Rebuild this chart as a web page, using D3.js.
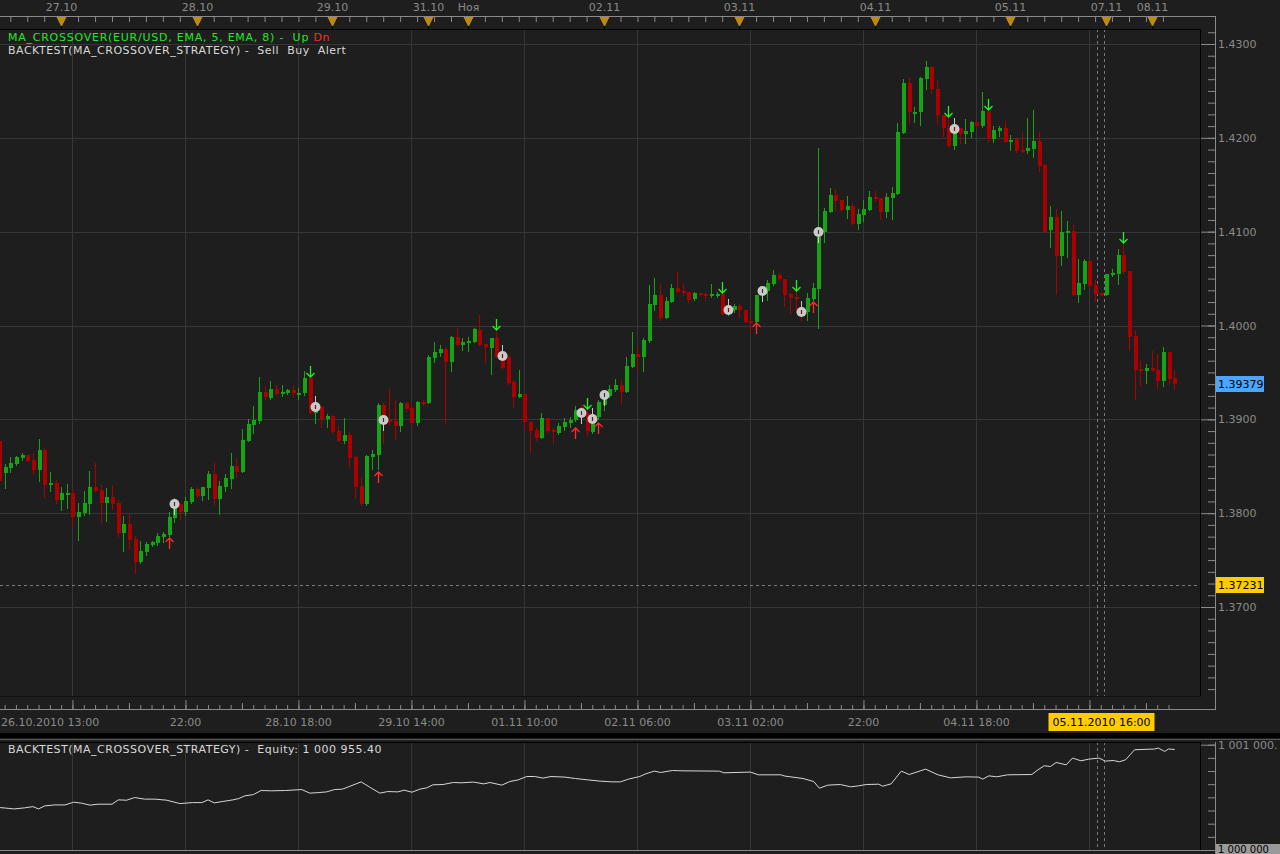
<!DOCTYPE html>
<html>
<head>
<meta charset="utf-8">
<script src="https://cdn.jsdelivr.net/npm/d3@7"></script>
<style>
  body { margin: 0; background: #1e1e1e; }
  svg { display: block; font-family: "DejaVu Sans", sans-serif; font-size: 11px; }
  .legend { letter-spacing: 0.5px; }
  .legend .wide { letter-spacing: 0.75px; }
</style>
</head>
<body>
<svg width="1280" height="854"></svg>
<script>
// EUR/USD hourly candles, 26.10.2010 13:00 -> 08.11.2010
const open = [
  1.3877,1.3843,1.3848,1.3852,1.3859,1.3862,1.3857,1.3846,1.3867,1.3830,1.3832,1.3814,1.3820,1.3822,1.3796,1.3800,1.3810,1.3828,1.3825,1.3811,
  1.3817,1.3811,1.3779,1.3788,1.3772,1.3748,1.3759,1.3766,1.3768,1.3775,1.3777,1.3795,1.3810,1.3801,1.3812,1.3826,1.3818,1.3827,1.3842,1.3815,
  1.3828,1.3836,1.3850,1.3844,1.3877,1.3894,1.3898,1.3929,1.3923,1.3932,1.3928,1.3928,1.3931,1.3927,1.3928,1.3944,1.3907,1.3913,1.3900,1.3904,
  1.3888,1.3877,1.3883,1.3860,1.3829,1.3810,1.3860,1.3862,1.3915,1.3899,1.3898,1.3893,1.3917,1.3912,1.3896,1.3919,1.3917,1.3965,1.3971,1.3975,
  1.3961,1.3988,1.3979,1.3981,1.3982,1.3995,1.3980,1.3976,1.3987,1.3969,1.3966,1.3940,1.3924,1.3927,1.3897,1.3889,1.3880,1.3901,1.3889,1.3885,
  1.3892,1.3896,1.3899,1.3913,1.3907,1.3887,1.3903,1.3915,1.3925,1.3931,1.3937,1.3929,1.3956,1.3970,1.3966,1.3984,1.4022,1.4032,1.4008,1.4025,
  1.4040,1.4037,1.4036,1.4028,1.4035,1.4034,1.4033,1.4033,1.4034,1.4013,1.4016,1.4021,1.4017,1.4005,1.4004,1.4033,1.4037,1.4044,1.4054,1.4050,
  1.4034,1.4030,1.4020,1.4014,1.4028,1.4039,1.4100,1.4121,1.4139,1.4134,1.4123,1.4127,1.4108,1.4118,1.4123,1.4137,1.4136,1.4121,1.4136,1.4140,
  1.4205,1.4258,1.4227,1.4227,1.4263,1.4276,1.4252,1.4224,1.4211,1.4191,1.4211,1.4204,1.4206,1.4217,1.4213,1.4229,1.4199,1.4207,1.4211,1.4196,
  1.4199,1.4187,1.4186,1.4188,1.4197,1.4171,1.4102,1.4116,1.4074,1.4099,1.4101,1.4032,1.4044,1.4069,1.4043,1.4035,1.4033,1.4054,1.4055,1.4075,
  1.4058,1.3989,1.3954,1.3952,1.3955,1.3953,1.3941,1.3972,1.3944
];
const high = [
  1.3878,1.3852,1.3860,1.3861,1.3864,1.3862,1.3864,1.3879,1.3869,1.3844,1.3835,1.3828,1.3831,1.3827,1.3811,1.3824,1.3845,1.3853,1.3830,1.3827,
  1.3830,1.3814,1.3797,1.3799,1.3776,1.3770,1.3769,1.3770,1.3779,1.3780,1.3801,1.3816,1.3811,1.3817,1.3828,1.3828,1.3828,1.3845,1.3853,1.3834,
  1.3842,1.3864,1.3859,1.3890,1.3900,1.3914,1.3945,1.3935,1.3941,1.3937,1.3937,1.3932,1.3935,1.3933,1.3951,1.3946,1.3913,1.3914,1.3906,1.3905,
  1.3893,1.3901,1.3887,1.3861,1.3839,1.3862,1.3867,1.3917,1.3917,1.3932,1.3921,1.3919,1.3919,1.3919,1.3920,1.3921,1.3969,1.3982,1.3979,1.3977,
  1.3989,1.3997,1.3987,1.3988,1.3997,1.4011,1.3980,1.3987,1.3993,1.3979,1.3969,1.3942,1.3953,1.3928,1.3898,1.3891,1.3907,1.3901,1.3892,1.3896,
  1.3901,1.3903,1.3914,1.3916,1.3922,1.3912,1.3921,1.3931,1.3937,1.3943,1.3942,1.3966,1.3993,1.3977,1.3987,1.4043,1.4051,1.4044,1.4030,1.4044,
  1.4057,1.4044,1.4036,1.4036,1.4035,1.4035,1.4044,1.4036,1.4036,1.4028,1.4023,1.4023,1.4017,1.4008,1.4033,1.4041,1.4049,1.4059,1.4056,1.4050,
  1.4035,1.4036,1.4025,1.4035,1.4045,1.4189,1.4125,1.4147,1.4146,1.4134,1.4138,1.4131,1.4124,1.4134,1.4143,1.4143,1.4136,1.4141,1.4148,1.4216,
  1.4263,1.4264,1.4233,1.4265,1.4282,1.4277,1.4262,1.4224,1.4224,1.4214,1.4211,1.4220,1.4218,1.4217,1.4249,1.4229,1.4213,1.4213,1.4218,1.4203,
  1.4201,1.4206,1.4221,1.4230,1.4206,1.4172,1.4127,1.4124,1.4122,1.4111,1.4107,1.4071,1.4071,1.4069,1.4049,1.4035,1.4055,1.4060,1.4082,1.4086,
  1.4058,1.3995,1.3962,1.3959,1.3973,1.3970,1.3977,1.3972,1.3953
];
const low = [
  1.3833,1.3827,1.3844,1.3851,1.3857,1.3856,1.3842,1.3834,1.3817,1.3824,1.3811,1.3803,1.3806,1.3786,1.3771,1.3798,1.3799,1.3824,1.3791,1.3792,
  1.3804,1.3776,1.3760,1.3762,1.3736,1.3747,1.3755,1.3765,1.3766,1.3769,1.3776,1.3791,1.3794,1.3798,1.3811,1.3817,1.3814,1.3815,1.3810,1.3799,
  1.3824,1.3827,1.3839,1.3844,1.3877,1.3885,1.3896,1.3922,1.3922,1.3927,1.3925,1.3927,1.3925,1.3922,1.3926,1.3907,1.3896,1.3892,1.3892,1.3885,
  1.3877,1.3875,1.3850,1.3816,1.3809,1.3809,1.3847,1.3847,1.3875,1.3894,1.3879,1.3888,1.3909,1.3895,1.3894,1.3915,1.3917,1.3961,1.3968,1.3896,
  1.3951,1.3979,1.3974,1.3973,1.3982,1.3979,1.3961,1.3948,1.3966,1.3955,1.3938,1.3913,1.3924,1.3889,1.3865,1.3878,1.3880,1.3887,1.3875,1.3884,
  1.3889,1.3892,1.3898,1.3896,1.3883,1.3885,1.3900,1.3910,1.3924,1.3930,1.3917,1.3929,1.3956,1.3953,1.3951,1.3982,1.4017,1.4006,1.4008,1.4025,
  1.4036,1.4032,1.4025,1.4027,1.4032,1.4027,1.4030,1.4030,1.4012,1.4011,1.4014,1.4009,1.4004,1.3992,1.4004,1.4027,1.4027,1.4043,1.4049,1.4021,
  1.4013,1.4014,1.4006,1.4006,1.4027,1.3997,1.4089,1.4121,1.4123,1.4123,1.4115,1.4108,1.4103,1.4111,1.4123,1.4133,1.4114,1.4116,1.4114,1.4140,
  1.4205,1.4216,1.4217,1.4214,1.4252,1.4248,1.4216,1.4202,1.4190,1.4188,1.4195,1.4195,1.4201,1.4213,1.4212,1.4196,1.4196,1.4202,1.4196,1.4187,
  1.4185,1.4185,1.4184,1.4180,1.4165,1.4100,1.4084,1.4034,1.4064,1.4073,1.4032,1.4025,1.4039,1.4042,1.4026,1.4033,1.4033,1.4053,1.4044,1.4056,
  1.3974,1.3922,1.3937,1.3939,1.3952,1.3933,1.3935,1.3939,1.3932
];
const close = [
  1.3834,1.3849,1.3853,1.3860,1.3862,1.3856,1.3846,1.3867,1.3830,1.3832,1.3814,1.3822,1.3822,1.3796,1.3801,1.3811,1.3828,1.3824,1.3811,1.3817,
  1.3810,1.3779,1.3788,1.3771,1.3748,1.3760,1.3767,1.3769,1.3776,1.3778,1.3796,1.3806,1.3801,1.3813,1.3826,1.3818,1.3828,1.3842,1.3815,1.3829,
  1.3838,1.3850,1.3844,1.3878,1.3895,1.3899,1.3929,1.3924,1.3932,1.3927,1.3929,1.3931,1.3928,1.3928,1.3944,1.3907,1.3909,1.3900,1.3904,1.3887,
  1.3877,1.3883,1.3859,1.3828,1.3810,1.3861,1.3863,1.3915,1.3894,1.3897,1.3893,1.3917,1.3911,1.3896,1.3919,1.3917,1.3966,1.3972,1.3975,1.3961,
  1.3988,1.3979,1.3982,1.3984,1.3996,1.3979,1.3977,1.3987,1.3966,1.3955,1.3939,1.3924,1.3927,1.3897,1.3888,1.3880,1.3901,1.3888,1.3887,1.3893,
  1.3897,1.3899,1.3910,1.3903,1.3888,1.3903,1.3919,1.3929,1.3932,1.3937,1.3929,1.3957,1.3970,1.3966,1.3985,1.4023,1.4032,1.4008,1.4026,1.4040,
  1.4036,1.4035,1.4027,1.4035,1.4033,1.4033,1.4034,1.4034,1.4012,1.4020,1.4021,1.4016,1.4004,1.4004,1.4032,1.4040,1.4045,1.4054,1.4050,1.4033,
  1.4029,1.4028,1.4011,1.4029,1.4040,1.4094,1.4122,1.4139,1.4133,1.4123,1.4127,1.4108,1.4119,1.4124,1.4137,1.4135,1.4121,1.4137,1.4141,1.4206,
  1.4258,1.4227,1.4228,1.4264,1.4276,1.4252,1.4224,1.4211,1.4191,1.4205,1.4204,1.4207,1.4217,1.4213,1.4229,1.4199,1.4208,1.4211,1.4196,1.4198,
  1.4186,1.4186,1.4189,1.4197,1.4170,1.4100,1.4116,1.4074,1.4100,1.4101,1.4032,1.4045,1.4069,1.4042,1.4034,1.4033,1.4055,1.4056,1.4075,1.4057,
  1.3988,1.3953,1.3952,1.3955,1.3952,1.3941,1.3972,1.3943,1.3938
];

// signals and trades
const sellSignalIdx = [55, 88, 104, 128, 141, 168, 175, 199];
const sellSignalPrice = [1.3945, 1.3995, 1.3911, 1.4035, 1.4037, 1.4222, 1.4230, 1.4088];
const buySignalIdx = [30, 67, 102, 106, 134, 144];
const buySignalPrice = [1.3774, 1.3844, 1.3891, 1.3896, 1.4003, 1.4025];
const tradeIdx = [31, 56, 68, 89, 103, 105, 107, 129, 135, 142, 145, 169];
const tradeSide = ['buy', 'sell', 'buy', 'sell', 'buy', 'sell', 'buy', 'sell', 'buy', 'sell', 'buy', 'sell'];
const tradePrice = [1.3798, 1.3925, 1.3888, 1.3979, 1.3895, 1.3912, 1.3914, 1.4028, 1.4025, 1.4026, 1.4088, 1.4221];

// equity curve (candle index, value)
const equityIdx = [
  0.2,2.7,4.5,6.0,7.0,8.1,9.9,11.7,13.2,14.6,16.1,17.5,20.0,21.1,22.6,24.0,25.8,27.6,29.7,32.0,
  34.2,35.9,37.0,38.1,39.5,41.4,42.4,43.5,45.0,46.4,48.2,50.7,53.6,55.0,56.5,58.0,59.4,60.8,62.3,64.1,
  65.6,67.4,68.8,70.6,71.7,73.1,74.5,75.7,76.8,78.6,80.4,81.8,84.0,85.8,86.9,89.0,90.4,91.9,93.4,94.8,
  96.3,97.7,100.2,102.0,104.2,106.4,108.5,110.0,111.4,113.4,114.5,116.0,117.1,119.2,120.7,127.5,128.3,133.0,134.4,138.4,
  139.1,142.3,144.2,145.2,146.7,148.9,150.7,152.1,153.5,155.7,156.4,157.9,159.7,161.1,164.0,166.2,168.4,171.2,173.4,174.1,
  175.2,176.6,178.5,182.8,183.9,185.0,186.1,187.1,188.9,190.0,191.5,192.9,194.7,195.8,197.2,198.3,199.4,201.0,204.5,205.2,
  206.3,207.0,208.1
];
const equityVal = [
  1000403,1000390,1000400,1000412,1000390,1000419,1000428,1000428,1000454,1000445,1000426,1000435,1000435,1000476,1000473,1000498,1000483,1000483,1000473,1000441,
  1000450,1000450,1000476,1000447,1000460,1000476,1000488,1000514,1000526,1000565,1000562,1000565,1000574,1000540,1000545,1000552,1000574,1000578,1000609,1000647,
  1000597,1000540,1000555,1000552,1000568,1000549,1000578,1000590,1000619,1000622,1000641,1000638,1000645,1000628,1000641,1000616,1000650,1000666,1000698,1000698,
  1000683,1000698,1000692,1000679,1000666,1000654,1000647,1000647,1000673,1000698,1000724,1000749,1000736,1000755,1000752,1000749,1000733,1000740,1000714,1000714,
  1000702,1000679,1000650,1000587,1000616,1000622,1000600,1000609,1000622,1000625,1000606,1000628,1000749,1000717,1000768,1000714,1000685,1000695,1000692,1000673,
  1000704,1000695,1000714,1000717,1000762,1000800,1000793,1000831,1000809,1000873,1000847,1000863,1000873,1000844,1000850,1000838,1000857,1000952,1000959,1000968,
  1000936,1000959,1000955
];
const equityLast = 1000955.40;

// axes
const priceTicks = [1.37, 1.38, 1.39, 1.40, 1.41, 1.42, 1.43];
const dayIdx = [11, 35, 59, 76, 83, 107, 131, 155, 179, 196, 204];
const dayLabels = ['27.10', '28.10', '29.10', '31.10', 'Ноя', '02.11', '03.11', '04.11', '05.11', '07.11', '08.11'];
const gridIdx = [13, 33, 53, 73, 93, 113, 133, 153, 173, 193];
const timeIdx = [33, 53, 73, 93, 113, 133, 153, 173];
const timeLabels = ['22:00', '28.10 18:00', '29.10 14:00', '01.11 10:00', '02.11 06:00', '03.11 02:00', '22:00', '04.11 18:00'];
const firstLabel = '26.10.2010 13:00';
const crossIdx = 195;
const crossLabel = '05.11.2010 16:00';
const crossPrice = 1.37231;
const lastPrice = 1.39379;
const equityTicks = [1000000, 1001000];
const equityTickLabels = ['1 000 000', '1 001 000.'];

const W = 1280, H = 854;
const plot = { right: 1200, top: 29, bottom: 696 };
const eqTop = 742, eqBottom = 850;
const axisX = 1215;

const upColor = '#14a414', downColor = '#aa0000';
const gridColor = '#363636', axisColor = '#8a8a8a';
const nb = s => s.replace(/ /g, '\u00a0');

const svg = d3.select('svg');
svg.append('rect').attr('width', W).attr('height', H).attr('fill', '#1e1e1e');

const defs = svg.append('defs');
defs.append('clipPath').attr('id', 'clipMain')
  .append('rect').attr('x', 0).attr('y', plot.top).attr('width', plot.right).attr('height', plot.bottom - plot.top);
defs.append('clipPath').attr('id', 'clipEq')
  .append('rect').attr('x', 0).attr('y', eqTop).attr('width', plot.right).attr('height', eqBottom - eqTop);

const xScale = d3.scaleLinear().domain([0, 208]).range([-1, 208 * 5.65 - 1]);
const yScale = d3.scaleLinear().domain([1.37, 1.43]).range([607, 44]);
const yEq = d3.scaleLinear().domain([1000000, 1001000]).range([850, 744.7]);
const px = i => Math.round(xScale(i));

// ---- grid ----
const gridG = svg.append('g').attr('stroke', gridColor).attr('shape-rendering', 'crispEdges');
gridG.selectAll('.hgrid').data(priceTicks).join('line')
  .attr('x1', 0).attr('x2', plot.right)
  .attr('y1', d => Math.round(yScale(d)) + 0.5).attr('y2', d => Math.round(yScale(d)) + 0.5);
gridG.selectAll('.vgrid').data(gridIdx).join('line')
  .attr('x1', d => px(d) + 0.5).attr('x2', d => px(d) + 0.5)
  .attr('y1', plot.top).attr('y2', plot.bottom);
gridG.selectAll('.vgrid2').data(gridIdx).join('line')
  .attr('x1', d => px(d) + 0.5).attr('x2', d => px(d) + 0.5)
  .attr('y1', eqTop).attr('y2', eqBottom);

// ---- crosshair ----
const crossG = svg.append('g').attr('stroke', '#7a7a7a').attr('stroke-dasharray', '3,3').attr('shape-rendering', 'crispEdges');
[-3.5, 3.5].forEach(off => {
  crossG.append('line')
    .attr('x1', px(crossIdx) + off).attr('x2', px(crossIdx) + off)
    .attr('y1', plot.top).attr('y2', plot.bottom);
  crossG.append('line')
    .attr('x1', px(crossIdx) + off).attr('x2', px(crossIdx) + off)
    .attr('y1', eqTop).attr('y2', eqBottom);
});
crossG.append('line')
  .attr('x1', 0).attr('x2', plot.right)
  .attr('y1', Math.round(yScale(crossPrice)) + 0.5).attr('y2', Math.round(yScale(crossPrice)) + 0.5)
  .attr('stroke-dasharray', '3,3');

// ---- candles ----
const candles = open.map((o, i) => ({ i, o, h: high[i], l: low[i], c: close[i] }));
const cg = svg.append('g').attr('clip-path', 'url(#clipMain)').attr('shape-rendering', 'crispEdges');
cg.selectAll('.wick').data(candles).join('line')
  .attr('x1', d => px(d.i) + 0.5).attr('x2', d => px(d.i) + 0.5)
  .attr('y1', d => Math.round(yScale(d.h))).attr('y2', d => Math.round(yScale(d.l)) + 1)
  .attr('stroke', d => d.c >= d.o ? upColor : downColor);
cg.selectAll('.body').data(candles).join('rect')
  .attr('x', d => px(d.i) - 1)
  .attr('width', 4)
  .attr('y', d => Math.round(yScale(Math.max(d.o, d.c))))
  .attr('height', d => Math.max(2, Math.round(yScale(Math.min(d.o, d.c))) - Math.round(yScale(Math.max(d.o, d.c)))))
  .attr('fill', d => d.c >= d.o ? upColor : downColor);

// ---- signal arrows ----
const arrowPath = (cx, tip, dir) =>
  `M${cx},${tip - dir * 11}L${cx},${tip}M${cx - 4},${tip - dir * 4}L${cx},${tip}L${cx + 4},${tip - dir * 4}`;
const mg = svg.append('g').attr('clip-path', 'url(#clipMain)').attr('fill', 'none').attr('stroke-width', 1.3);
mg.selectAll('.sell').data(sellSignalIdx).join('path')
  .attr('d', (d, k) => arrowPath(px(d) + 0.5, Math.round(yScale(sellSignalPrice[k])), 1))
  .attr('stroke', '#22f022');
mg.selectAll('.buy').data(buySignalIdx).join('path')
  .attr('d', (d, k) => arrowPath(px(d) + 0.5, Math.round(yScale(buySignalPrice[k])), -1))
  .attr('stroke', '#ff2a2a');

// ---- trade balloons ----
const trades = tradeIdx.map((i, k) => ({ i, side: tradeSide[k], p: tradePrice[k] }));
const tg = mg.selectAll('.trade').data(trades).join('g')
  .attr('transform', d => `translate(${px(d.i) + 0.5},${Math.round(yScale(d.p))})`);
tg.append('line')
  .attr('x1', 0).attr('x2', 0).attr('y1', 0)
  .attr('y2', d => d.side === 'buy' ? -8 : 8)
  .attr('stroke', '#c8c8c8').attr('stroke-width', 1);
tg.append('circle')
  .attr('cx', 0).attr('cy', d => d.side === 'buy' ? -11 : 11).attr('r', 5)
  .attr('fill', '#cacaca').attr('stroke', 'none');
tg.append('line')
  .attr('x1', 0).attr('x2', 0)
  .attr('y1', d => (d.side === 'buy' ? -11 : 11) - 2)
  .attr('y2', d => (d.side === 'buy' ? -11 : 11) + 2)
  .attr('stroke', d => d.side === 'buy' ? '#333' : '#7a1010').attr('stroke-width', 1.2);

// ---- frames ----
const fr = svg.append('g').attr('shape-rendering', 'crispEdges');
fr.append('line').attr('x1', 0).attr('x2', plot.right + 1).attr('y1', plot.top + 0.5).attr('y2', plot.top + 0.5).attr('stroke', '#000');
fr.append('line').attr('x1', plot.right + 0.5).attr('x2', plot.right + 0.5).attr('y1', plot.top).attr('y2', plot.bottom).attr('stroke', '#000');
fr.append('line').attr('x1', 0).attr('x2', plot.right + 1).attr('y1', plot.bottom + 0.5).attr('y2', plot.bottom + 0.5).attr('stroke', '#111');
// separator between panels
fr.append('rect').attr('x', 0).attr('y', 733).attr('width', W).attr('height', 5).attr('fill', '#000');
fr.append('line').attr('x1', 0).attr('x2', W).attr('y1', 739.5).attr('y2', 739.5).attr('stroke', '#555');
fr.append('line').attr('x1', 0).attr('x2', plot.right + 1).attr('y1', eqTop + 0.5).attr('y2', eqTop + 0.5).attr('stroke', '#000');
fr.append('line').attr('x1', plot.right + 0.5).attr('x2', plot.right + 0.5).attr('y1', eqTop).attr('y2', eqBottom).attr('stroke', '#000');
fr.append('line').attr('x1', 0).attr('x2', axisX).attr('y1', eqBottom + 0.5).attr('y2', eqBottom + 0.5).attr('stroke', axisColor);

// ---- top time axis ----
const topAxisY = 16;
fr.append('line').attr('x1', 0).attr('x2', axisX).attr('y1', topAxisY + 0.5).attr('y2', topAxisY + 0.5).attr('stroke', axisColor);
const topTicks = d3.range(2, 209, 3);
const topAxis = svg.append('g').attr('transform', `translate(0,${topAxisY})`)
  .call(d3.axisBottom(xScale).tickValues(topTicks).tickSize(6).tickFormat(''));
topAxis.select('.domain').remove();
topAxis.selectAll('line').attr('stroke', axisColor);

const dayG = svg.append('g');
dayG.selectAll('path').data(dayIdx).join('path')
  .attr('d', d => `M${px(d) - 4.5},17L${px(d) + 5.5},17L${px(d) + 0.5},27Z`)
  .attr('fill', '#bf8a12');
dayG.selectAll('line').data(dayIdx).join('line')
  .attr('x1', d => px(d) + 0.5).attr('x2', d => px(d) + 0.5)
  .attr('y1', 26).attr('y2', 30).attr('stroke', '#000');
dayG.selectAll('text').data(dayIdx).join('text')
  .attr('x', d => px(d) + 0.5).attr('y', 11)
  .attr('text-anchor', 'middle').attr('fill', axisColor)
  .text((d, k) => dayLabels[k]);

// ---- bottom time axis ----
const botAxisY = 709;
fr.append('line').attr('x1', 0).attr('x2', axisX).attr('y1', botAxisY + 0.5).attr('y2', botAxisY + 0.5).attr('stroke', axisColor);
const smallTicks = d3.range(1, 209, 2);
const bA = svg.append('g').attr('transform', `translate(0,${botAxisY})`);
bA.append('g').call(d3.axisTop(xScale).tickValues(smallTicks).tickSize(4).tickFormat(''));
bA.append('g').call(d3.axisTop(xScale).tickValues(gridIdx.map(d => d + 10).filter(d => d < 209)).tickSize(6).tickFormat(''));
bA.append('g').call(d3.axisTop(xScale).tickValues(gridIdx).tickSize(9).tickFormat(''));
bA.selectAll('.domain').remove();
bA.selectAll('line').attr('stroke', axisColor);

svg.append('g').selectAll('text').data(timeIdx).join('text')
  .attr('x', d => px(d) + 0.5).attr('y', 726)
  .attr('text-anchor', 'middle').attr('fill', axisColor)
  .text((d, k) => timeLabels[k]);
svg.append('text').attr('x', 1).attr('y', 726).attr('fill', axisColor).text(firstLabel);

const cx = px(crossIdx) + 0.5;
svg.append('rect').attr('x', cx - 53).attr('y', 713).attr('width', 106).attr('height', 18).attr('fill', '#ffcc00');
svg.append('text').attr('x', cx).attr('y', 726).attr('text-anchor', 'middle').attr('fill', '#000').text(crossLabel);

// ---- right price axis ----
fr.append('line').attr('x1', axisX + 0.5).attr('x2', axisX + 0.5).attr('y1', topAxisY).attr('y2', botAxisY + 1).attr('stroke', axisColor);
const minorPrice = d3.range(1.36, 1.44, 0.00125).filter(p => yScale(p) > plot.top + 1 && yScale(p) < plot.bottom - 2);
const yMinor = svg.append('g').attr('transform', `translate(${axisX},0)`)
  .call(d3.axisRight(yScale).tickValues(minorPrice).tickSize(-7).tickFormat(''));
const yMajor = svg.append('g').attr('transform', `translate(${axisX},0)`)
  .call(d3.axisRight(yScale).tickValues(priceTicks).tickSize(-14).tickPadding(3).tickFormat(d3.format('.4f')));
[yMinor, yMajor].forEach(g => {
  g.select('.domain').remove();
  g.selectAll('line').attr('stroke', axisColor);
  g.attr('font-family', null).attr('font-size', null);
});
yMajor.selectAll('text').attr('fill', axisColor);

const priceTag = (p, fill, label) => {
  const yy = Math.round(yScale(p));
  svg.append('rect').attr('x', axisX + 1).attr('y', yy - 8).attr('width', 48).attr('height', 16).attr('fill', fill);
  svg.append('text').attr('x', axisX + 3).attr('y', yy + 4).attr('fill', '#000').text(label);
};
priceTag(lastPrice, '#4ca6ff', d3.format('.5f')(lastPrice));
priceTag(crossPrice, '#ffcc00', d3.format('.5f')(crossPrice));

// ---- equity panel ----
fr.append('line').attr('x1', axisX + 0.5).attr('x2', axisX + 0.5).attr('y1', eqTop).attr('y2', H).attr('stroke', axisColor);
const eqMinor = d3.range(1000000, 1001001, 125);
const eMinor = svg.append('g').attr('transform', `translate(${axisX},0)`)
  .call(d3.axisRight(yEq).tickValues(eqMinor).tickSize(-7).tickFormat(''));
const eMajor = svg.append('g').attr('transform', `translate(${axisX},0)`)
  .call(d3.axisRight(yEq).tickValues(equityTicks).tickSize(-14).tickFormat(''));
[eMinor, eMajor].forEach(g => {
  g.select('.domain').remove();
  g.selectAll('line').attr('stroke', axisColor);
});
svg.append('text').attr('x', axisX + 3).attr('y', Math.round(yEq(equityTicks[1])) + 4)
  .attr('fill', axisColor).text(nb(equityTickLabels[1]));
svg.append('rect').attr('x', axisX + 1).attr('y', Math.round(yEq(equityTicks[0])) - 6)
  .attr('width', W - axisX - 1).attr('height', 10).attr('fill', '#9a9a9a');
svg.append('text').attr('x', axisX + 3).attr('y', Math.round(yEq(equityTicks[0])) + 3)
  .attr('fill', '#000').attr('font-size', 10).text(nb(equityTickLabels[0]));

const eqData = equityIdx.map((i, k) => ({ i, v: equityVal[k] }));
svg.append('path').datum(eqData)
  .attr('clip-path', 'url(#clipEq)')
  .attr('d', d3.line().x(d => xScale(d.i)).y(d => yEq(d.v)))
  .attr('fill', 'none').attr('stroke', '#d6d6d6').attr('stroke-width', 1);

// ---- legends ----
const eqFmt = v => d3.format(',.2f')(v).replace(/,/g, ' ');
const leg = svg.append('g').attr('class', 'legend');
const l1 = leg.append('text').attr('class', 'wide').attr('x', 8).attr('y', 41);
l1.append('tspan').attr('fill', '#22e622').text(nb('MA_CROSSOVER(EUR/USD, EMA, 5, EMA, 8) -  Up '));
l1.append('tspan').attr('fill', '#ff2a2a').text('Dn');
leg.append('text').attr('x', 8).attr('y', 54).attr('fill', '#d8d8d8')
  .text(nb('BACKTEST(MA_CROSSOVER_STRATEGY) -  Sell  Buy  Alert'));
leg.append('text').attr('x', 8).attr('y', 753).attr('fill', '#d8d8d8')
  .text(nb('BACKTEST(MA_CROSSOVER_STRATEGY) -  Equity: ' + eqFmt(equityLast)));
</script>
</body>
</html>
